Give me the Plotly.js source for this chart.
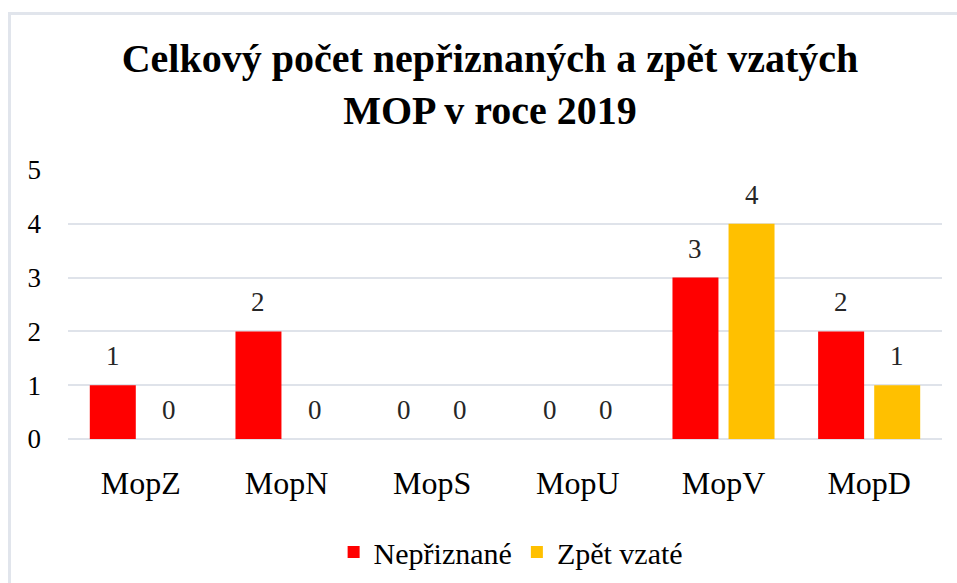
<!DOCTYPE html>
<html>
<head>
<meta charset="utf-8">
<script src="https://cdn.plot.ly/plotly-3.0.1.min.js"></script>
<style>
html,body{margin:0;padding:0;background:#fff;overflow:hidden;}
#frame{position:absolute;left:8px;top:12px;width:1200px;height:800px;border-left:3px solid #e1e5ec;border-top:3px solid #e1e5ec;box-sizing:border-box;}
#chart{position:absolute;left:0;top:0;width:957px;height:583px;}
</style>
</head>
<body>
<div id="frame"></div>
<div id="chart"></div>
<script>
const categories = ["MopZ", "MopN", "MopS", "MopU", "MopV", "MopD"];
const seriesNames = ["Nepřiznané", "Zpět vzaté"];
const nepriznane = [1, 2, 0, 0, 3, 2];
const zpetVzate = [0, 0, 0, 0, 4, 1];
const yTicks = [0, 1, 2, 3, 4, 5];
const seriesColors = ["#ff0000", "#ffc000"];

const FONT = "'Liberation Serif', 'Times New Roman', serif";
const W = 957, H = 583;
const M = {l: 68, r: 15, t: 170, b: 144, autoexpand: false};
const BARGAP = 0.23;

const traces = [
  {type: "bar", name: seriesNames[0], x: categories, y: nepriznane,
   marker: {color: seriesColors[0]}, hoverinfo: "x+y"},
  {type: "bar", name: seriesNames[1], x: categories, y: zpetVzate,
   marker: {color: seriesColors[1]}, hoverinfo: "x+y"}
];

// value labels above bars (positioned on the data axes, shifted to the bar's group slot)
const catPx = (W - M.l - M.r) / categories.length;
const slotShift = (1 - BARGAP) / 4 * catPx;
const annotations = [];
[nepriznane, zpetVzate].forEach((vals, si) => {
  vals.forEach((v, i) => {
    annotations.push({
      x: categories[i], y: v, xref: "x", yref: "y", text: String(v),
      showarrow: false, xanchor: "center", yanchor: "bottom",
      xshift: si === 0 ? -slotShift : slotShift, yshift: 12,
      font: {family: FONT, size: 27, color: "#262626"}
    });
  });
});

const layout = {
  width: W, height: H,
  font: {family: FONT, color: "#000"},
  paper_bgcolor: "rgba(0,0,0,0)", plot_bgcolor: "rgba(0,0,0,0)",
  margin: M,
  barmode: "group", bargap: BARGAP, bargroupgap: 0.18,
  title: {
    text: "<b>Celkový počet nepřiznaných a zpět vzatých<br>MOP v roce 2019</b>",
    font: {family: FONT, size: 40, color: "#000"},
    xref: "container", x: 490 / 957, xanchor: "center", y: 1 - 72/583, yanchor: "top"
  },
  xaxis: {
    type: "category", showgrid: false, zeroline: false, showline: false,
    tickfont: {family: FONT, size: 32, color: "#000"}, ticklabelstandoff: 22,
    fixedrange: true
  },
  yaxis: {
    range: [0, 5], tickvals: yTicks, showgrid: true, gridcolor: "#dfe3ea", gridwidth: 2,
    zeroline: true, zerolinecolor: "#dfe3ea", zerolinewidth: 2, showline: false,
    tickfont: {family: FONT, size: 27, color: "#000"}, ticklabelstandoff: 26,
    fixedrange: true
  },
  annotations: annotations,
  showlegend: true,
  legend: {
    orientation: "h", x: 0.507, xref: "paper", xanchor: "center",
    y: 1 - 552/583, yref: "container", yanchor: "middle",
    font: {family: FONT, size: 30, color: "#000"}, traceorder: "normal",
    itemwidth: 30
  }
};

Plotly.newPlot("chart", traces, layout, {displayModeBar: false, staticPlot: true});
</script>
</body>
</html>
